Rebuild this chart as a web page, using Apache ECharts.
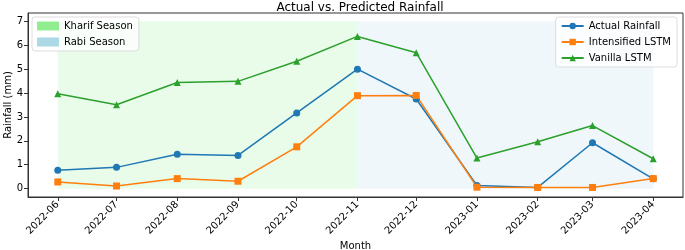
<!DOCTYPE html>
<html>
<head>
<meta charset="utf-8">
<script src="https://cdn.jsdelivr.net/npm/echarts@6/dist/echarts.min.js"></script>
<style>
  html, body { margin: 0; padding: 0; background: #fff; }
  #chart { width: 685px; height: 250px; }
</style>
</head>
<body>
<div id="chart"></div>
<script>
// monthly values
const months = ['2022-06', '2022-07', '2022-08', '2022-09', '2022-10', '2022-11',
                '2022-12', '2023-01', '2023-02', '2023-03', '2023-04'];
const actual = [0.77, 0.89, 1.44, 1.39, 3.17, 5.0, 3.75, 0.13, 0.05, 1.92, 0.41];
const intensified = [0.28, 0.11, 0.42, 0.31, 1.75, 3.89, 3.9, 0.06, 0.05, 0.05, 0.42];
const vanilla = [3.97, 3.51, 4.44, 4.49, 5.33, 6.37, 5.69, 1.28, 1.96, 2.64, 1.25];
const yTicks = [0, 1, 2, 3, 4, 5, 6, 7];
const kharif = ['2022-06', '2022-11'];
const rabi = ['2022-11', '2023-04'];
const shadeTop = 7;

const FONT = 'DejaVu Sans';
const chart = echarts.init(document.getElementById('chart'));

const ts = m => new Date(m + '-01T00:00:00').getTime();
const pairs = vals => months.map((m, i) => [ts(m), vals[i]]);

function lineSeries(name, vals, color, symbol, size) {
  return {
    name: name,
    type: 'line',
    data: pairs(vals),
    symbol: symbol,
    symbolSize: size,
    showAllSymbol: true,
    lineStyle: { color: color, width: 1.5 },
    itemStyle: { color: color },
    emphasis: { disabled: true },
    z: 3
  };
}

function season(name, span, color, fill) {
  return {
    name: name,
    type: 'line',
    data: [],
    itemStyle: { color: color },
    markArea: {
      silent: true,
      itemStyle: { color: fill },
      data: [[{ xAxis: ts(span[0]), yAxis: 0 }, { xAxis: ts(span[1]), yAxis: shadeTop }]]
    },
    z: 1
  };
}

const option = {
  animation: false,
  textStyle: { fontFamily: FONT },
  title: {
    text: 'Actual vs. Predicted Rainfall',
    left: 355,
    textAlign: 'center',
    top: -3,
    textStyle: { fontFamily: FONT, fontSize: 12, fontWeight: 'normal', color: '#000' }
  },
  grid: {
    left: 28, right: 2, top: 13, bottom: 53,
    outerBoundsMode: 'none',
    containLabel: false,
    show: true, borderColor: '#333', borderWidth: 1, backgroundColor: 'transparent'
  },
  legend: [
    {
      data: [{ name: 'Kharif Season', icon: 'rect' }, { name: 'Rabi Season', icon: 'rect' }],
      orient: 'vertical',
      left: 32, top: 17,
      itemWidth: 22, itemHeight: 9, itemGap: 6,
      padding: [4, 6, 4, 5],
      backgroundColor: 'rgba(255,255,255,0.8)',
      borderColor: '#ddd', borderWidth: 1, borderRadius: 3,
      textStyle: { fontFamily: FONT, fontSize: 10, color: '#000' },
      selectedMode: false
    },
    {
      data: ['Actual Rainfall', 'Intensified LSTM', 'Vanilla LSTM'],
      orient: 'vertical',
      right: 8, top: 17,
      itemWidth: 22, itemHeight: 8, itemGap: 6,
      padding: [4, 6, 4, 5],
      backgroundColor: 'rgba(255,255,255,0.8)',
      borderColor: '#ddd', borderWidth: 1, borderRadius: 3,
      textStyle: { fontFamily: FONT, fontSize: 10, color: '#000' },
      selectedMode: false
    }
  ],
  xAxis: {
    type: 'time',
    min: ts('2022-06') - 15.2 * 86400000,
    max: ts('2023-04') + 15.2 * 86400000,
    name: 'Month',
    nameLocation: 'middle',
    nameGap: 44,
    nameMoveOverlap: false,
    nameTextStyle: { fontFamily: FONT, fontSize: 10, color: '#000' },
    splitLine: { show: false },
    axisLine: { onZero: false, lineStyle: { color: '#333' } },
    axisTick: { length: 4, lineStyle: { color: '#333' } },
    axisLabel: {
      rotate: 45,
      fontFamily: FONT, fontSize: 10, color: '#000',
      margin: 6,
      formatter: v => echarts.time.format(v, '{yyyy}-{MM}', false)
    }
  },
  yAxis: {
    type: 'value',
    min: -0.35,
    max: 7.35,
    name: 'Rainfall (mm)',
    nameLocation: 'middle',
    nameGap: 15,
    nameMoveOverlap: false,
    nameTextStyle: { fontFamily: FONT, fontSize: 10, color: '#000' },
    splitLine: { show: false },
    axisLine: { show: true, onZero: false, lineStyle: { color: '#333' } },
    axisTick: { show: true, length: 4, lineStyle: { color: '#333' }, customValues: yTicks },
    axisLabel: {
      fontFamily: FONT, fontSize: 10, color: '#000', margin: 5,
      customValues: yTicks
    }
  },
  series: [
    season('Kharif Season', kharif, '#90ee90', 'rgba(144,238,144,0.2)'),
    season('Rabi Season', rabi, '#add8e6', 'rgba(173,216,230,0.2)'),
    lineSeries('Actual Rainfall', actual, '#1f77b4', 'circle', 7),
    lineSeries('Intensified LSTM', intensified, '#ff7f0e', 'rect', 7),
    lineSeries('Vanilla LSTM', vanilla, '#2ca02c', 'triangle', 7)
  ]
};

chart.setOption(option);
</script>
</body>
</html>
